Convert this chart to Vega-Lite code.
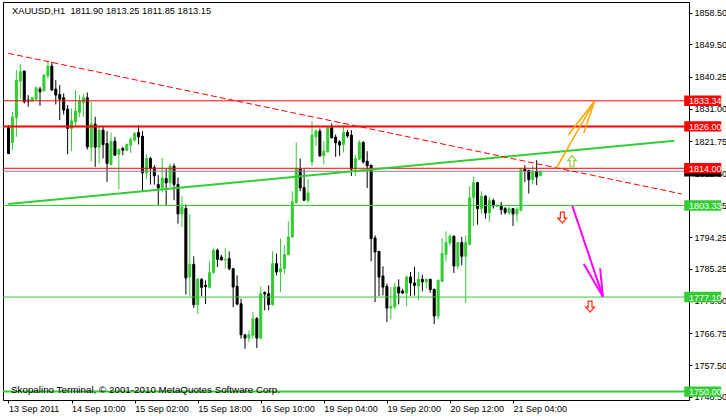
{
  "$schema": "https://vega.github.io/schema/vega-lite/v6.json",
  "width": 686,
  "height": 398,
  "autosize": {"type": "none"},
  "padding": {"left": 3, "top": 2, "right": 37, "bottom": 16},
  "background": "white",
  "config": {
    "view": {"stroke": "black", "strokeWidth": 1},
    "axis": {"labelFont": "Liberation Sans", "labelFontSize": 9, "labelColor": "black", "tickColor": "black", "domain": false, "grid": false, "labelOverlap": false, "labelBound": false, "labelFlush": false}
  },
  "datasets": {
    "candles": [
      {"i":0,"o":1825.60,"h":1826.36,"l":1818.04,"c":1818.23},
      {"i":1,"o":1821.39,"h":1830.19,"l":1819.19,"c":1828.75},
      {"i":2,"o":1828.47,"h":1842.15,"l":1823.02,"c":1839.28},
      {"i":3,"o":1838.99,"h":1843.87,"l":1834.02,"c":1841.67},
      {"i":4,"o":1841.86,"h":1841.95,"l":1832.58,"c":1833.06},
      {"i":5,"o":1833.54,"h":1834.97,"l":1831.62,"c":1833.25},
      {"i":6,"o":1833.25,"h":1834.49,"l":1833.06,"c":1834.21},
      {"i":7,"o":1833.82,"h":1837.36,"l":1833.54,"c":1837.08},
      {"i":8,"o":1836.69,"h":1837.36,"l":1831.91,"c":1835.93},
      {"i":9,"o":1836.22,"h":1840.90,"l":1835.93,"c":1840.71},
      {"i":10,"o":1840.52,"h":1844.82,"l":1839.56,"c":1843.29},
      {"i":11,"o":1843.29,"h":1844.54,"l":1836.12,"c":1836.41},
      {"i":12,"o":1836.69,"h":1839.28,"l":1832.29,"c":1834.97},
      {"i":13,"o":1835.16,"h":1837.84,"l":1827.80,"c":1833.82},
      {"i":14,"o":1834.21,"h":1835.45,"l":1829.42,"c":1830.67},
      {"i":15,"o":1830.95,"h":1832.10,"l":1818.04,"c":1825.41},
      {"i":16,"o":1825.41,"h":1831.15,"l":1818.90,"c":1827.61},
      {"i":17,"o":1827.32,"h":1836.41,"l":1825.89,"c":1830.38},
      {"i":18,"o":1830.00,"h":1834.97,"l":1828.75,"c":1833.25},
      {"i":19,"o":1832.87,"h":1835.26,"l":1828.75,"c":1834.21},
      {"i":20,"o":1834.21,"h":1835.74,"l":1819.38,"c":1820.15},
      {"i":21,"o":1820.05,"h":1833.06,"l":1815.84,"c":1826.65},
      {"i":22,"o":1826.65,"h":1828.75,"l":1814.41,"c":1820.05},
      {"i":23,"o":1820.05,"h":1825.89,"l":1815.36,"c":1824.93},
      {"i":24,"o":1824.93,"h":1825.89,"l":1816.80,"c":1820.82},
      {"i":25,"o":1821.10,"h":1824.64,"l":1810.10,"c":1815.36},
      {"i":26,"o":1815.08,"h":1824.26,"l":1814.89,"c":1821.77},
      {"i":27,"o":1821.77,"h":1823.02,"l":1817.56,"c":1817.76},
      {"i":28,"o":1818.04,"h":1819.67,"l":1807.99,"c":1819.38},
      {"i":29,"o":1819.67,"h":1820.15,"l":1817.76,"c":1819.19},
      {"i":30,"o":1819.19,"h":1821.10,"l":1818.90,"c":1820.82},
      {"i":31,"o":1820.63,"h":1823.02,"l":1818.42,"c":1822.25},
      {"i":32,"o":1822.06,"h":1824.45,"l":1821.58,"c":1823.97},
      {"i":33,"o":1824.26,"h":1826.36,"l":1820.82,"c":1823.02},
      {"i":34,"o":1823.21,"h":1824.64,"l":1807.43,"c":1812.69},
      {"i":35,"o":1812.69,"h":1818.04,"l":1810.87,"c":1816.80},
      {"i":36,"o":1816.80,"h":1817.28,"l":1809.34,"c":1813.93},
      {"i":37,"o":1814.22,"h":1814.89,"l":1809.34,"c":1811.82},
      {"i":38,"o":1809.34,"h":1812.02,"l":1803.41,"c":1808.38},
      {"i":39,"o":1808.38,"h":1816.99,"l":1807.04,"c":1811.25},
      {"i":40,"o":1811.06,"h":1813.93,"l":1803.41,"c":1809.82},
      {"i":41,"o":1809.91,"h":1815.36,"l":1808.67,"c":1814.60},
      {"i":42,"o":1814.60,"h":1815.36,"l":1804.84,"c":1809.34},
      {"i":43,"o":1809.34,"h":1811.35,"l":1798.15,"c":1800.92},
      {"i":44,"o":1800.92,"h":1805.99,"l":1797.19,"c":1802.93},
      {"i":45,"o":1802.45,"h":1803.69,"l":1777.87,"c":1782.56},
      {"i":46,"o":1782.84,"h":1800.83,"l":1777.39,"c":1786.48},
      {"i":47,"o":1786.48,"h":1788.77,"l":1773.95,"c":1774.90},
      {"i":48,"o":1774.90,"h":1782.56,"l":1772.23,"c":1782.17},
      {"i":49,"o":1782.17,"h":1782.56,"l":1777.39,"c":1779.88},
      {"i":50,"o":1780.45,"h":1781.89,"l":1775.10,"c":1780.07},
      {"i":51,"o":1779.88,"h":1787.34,"l":1779.50,"c":1784.09},
      {"i":52,"o":1784.09,"h":1790.97,"l":1783.80,"c":1790.50},
      {"i":53,"o":1790.50,"h":1790.97,"l":1785.71,"c":1787.91},
      {"i":54,"o":1788.58,"h":1789.25,"l":1787.63,"c":1787.72},
      {"i":55,"o":1787.72,"h":1791.17,"l":1785.23,"c":1787.91},
      {"i":56,"o":1788.10,"h":1790.21,"l":1784.76,"c":1785.23},
      {"i":57,"o":1785.23,"h":1785.43,"l":1774.23,"c":1779.97},
      {"i":58,"o":1780.17,"h":1783.32,"l":1774.71,"c":1775.10},
      {"i":59,"o":1775.19,"h":1776.63,"l":1765.15,"c":1766.29},
      {"i":60,"o":1766.29,"h":1766.40,"l":1762.28,"c":1765.34},
      {"i":61,"o":1765.34,"h":1767.54,"l":1764.19,"c":1766.29},
      {"i":62,"o":1766.10,"h":1772.80,"l":1765.15,"c":1770.89},
      {"i":63,"o":1770.89,"h":1771.37,"l":1762.47,"c":1765.34},
      {"i":64,"o":1765.34,"h":1780.16,"l":1764.96,"c":1778.06},
      {"i":65,"o":1778.35,"h":1778.73,"l":1773.28,"c":1777.97},
      {"i":66,"o":1778.06,"h":1780.45,"l":1773.28,"c":1774.90},
      {"i":67,"o":1774.90,"h":1790.21,"l":1774.71,"c":1786.67},
      {"i":68,"o":1786.67,"h":1789.54,"l":1783.32,"c":1784.28},
      {"i":69,"o":1784.28,"h":1793.84,"l":1778.54,"c":1785.23},
      {"i":70,"o":1785.23,"h":1791.93,"l":1783.80,"c":1789.25},
      {"i":71,"o":1789.25,"h":1798.82,"l":1789.06,"c":1794.32},
      {"i":72,"o":1794.32,"h":1807.43,"l":1794.03,"c":1804.37},
      {"i":73,"o":1804.17,"h":1821.39,"l":1803.89,"c":1813.93},
      {"i":74,"o":1813.74,"h":1816.80,"l":1807.43,"c":1808.38},
      {"i":75,"o":1808.48,"h":1813.74,"l":1804.65,"c":1804.84},
      {"i":76,"o":1804.84,"h":1810.87,"l":1804.08,"c":1806.95},
      {"i":77,"o":1815.84,"h":1827.51,"l":1814.69,"c":1823.49},
      {"i":78,"o":1823.02,"h":1825.21,"l":1820.43,"c":1824.64},
      {"i":79,"o":1824.64,"h":1825.41,"l":1817.28,"c":1817.56},
      {"i":80,"o":1817.56,"h":1821.77,"l":1815.08,"c":1818.90},
      {"i":81,"o":1818.71,"h":1825.89,"l":1818.52,"c":1825.60},
      {"i":82,"o":1825.60,"h":1826.84,"l":1822.54,"c":1822.73},
      {"i":83,"o":1822.92,"h":1823.69,"l":1817.28,"c":1821.29},
      {"i":84,"o":1821.58,"h":1822.06,"l":1817.56,"c":1820.63},
      {"i":85,"o":1820.82,"h":1825.89,"l":1818.52,"c":1824.26},
      {"i":86,"o":1824.26,"h":1824.93,"l":1822.73,"c":1823.30},
      {"i":87,"o":1823.49,"h":1824.93,"l":1811.82,"c":1813.74},
      {"i":88,"o":1813.74,"h":1817.76,"l":1811.82,"c":1816.80},
      {"i":89,"o":1816.61,"h":1822.06,"l":1816.32,"c":1821.39},
      {"i":90,"o":1821.39,"h":1821.77,"l":1815.36,"c":1815.84},
      {"i":91,"o":1816.03,"h":1818.90,"l":1808.38,"c":1814.69},
      {"i":92,"o":1814.89,"h":1814.95,"l":1787.34,"c":1793.84},
      {"i":93,"o":1794.03,"h":1794.80,"l":1775.67,"c":1790.02},
      {"i":94,"o":1790.21,"h":1790.30,"l":1777.39,"c":1782.84},
      {"i":95,"o":1783.13,"h":1785.90,"l":1777.58,"c":1779.97},
      {"i":96,"o":1780.17,"h":1780.93,"l":1769.93,"c":1773.95},
      {"i":97,"o":1773.95,"h":1779.97,"l":1770.69,"c":1774.43},
      {"i":98,"o":1774.23,"h":1781.22,"l":1773.56,"c":1779.97},
      {"i":99,"o":1779.97,"h":1782.17,"l":1775.00,"c":1778.25},
      {"i":100,"o":1778.83,"h":1779.50,"l":1778.06,"c":1778.25},
      {"i":101,"o":1778.25,"h":1783.32,"l":1774.52,"c":1782.84},
      {"i":102,"o":1782.84,"h":1784.28,"l":1777.39,"c":1781.12},
      {"i":103,"o":1781.12,"h":1785.71,"l":1777.58,"c":1780.45},
      {"i":104,"o":1780.26,"h":1784.28,"l":1776.15,"c":1782.17},
      {"i":105,"o":1782.17,"h":1783.51,"l":1778.73,"c":1781.41},
      {"i":106,"o":1781.41,"h":1782.36,"l":1779.50,"c":1782.17},
      {"i":107,"o":1782.17,"h":1782.36,"l":1778.35,"c":1779.21},
      {"i":108,"o":1779.31,"h":1779.50,"l":1769.36,"c":1771.65},
      {"i":109,"o":1771.65,"h":1782.17,"l":1770.69,"c":1781.89},
      {"i":110,"o":1781.60,"h":1794.03,"l":1781.41,"c":1789.54},
      {"i":111,"o":1789.35,"h":1795.95,"l":1787.34,"c":1792.70},
      {"i":112,"o":1792.60,"h":1795.28,"l":1791.93,"c":1794.51},
      {"i":113,"o":1794.51,"h":1794.80,"l":1783.99,"c":1786.00},
      {"i":114,"o":1786.00,"h":1792.89,"l":1785.23,"c":1792.70},
      {"i":115,"o":1792.70,"h":1794.32,"l":1786.19,"c":1788.77},
      {"i":116,"o":1788.77,"h":1794.80,"l":1775.38,"c":1792.70},
      {"i":117,"o":1792.22,"h":1808.86,"l":1791.93,"c":1805.61},
      {"i":118,"o":1805.61,"h":1811.54,"l":1797.48,"c":1809.91},
      {"i":119,"o":1809.91,"h":1810.10,"l":1797.86,"c":1802.45},
      {"i":120,"o":1802.45,"h":1807.43,"l":1801.02,"c":1805.99},
      {"i":121,"o":1805.99,"h":1806.28,"l":1799.58,"c":1801.21},
      {"i":122,"o":1801.21,"h":1805.80,"l":1798.63,"c":1804.75},
      {"i":123,"o":1804.75,"h":1805.32,"l":1802.45,"c":1803.22},
      {"i":124,"o":1803.12,"h":1803.60,"l":1802.93,"c":1803.41},
      {"i":125,"o":1803.41,"h":1804.37,"l":1800.73,"c":1802.16},
      {"i":126,"o":1802.45,"h":1802.93,"l":1800.73,"c":1801.30},
      {"i":127,"o":1801.30,"h":1802.93,"l":1800.73,"c":1802.45},
      {"i":128,"o":1802.45,"h":1802.64,"l":1797.48,"c":1800.92},
      {"i":129,"o":1800.92,"h":1802.93,"l":1798.63,"c":1802.26},
      {"i":130,"o":1801.97,"h":1813.93,"l":1801.69,"c":1813.74},
      {"i":131,"o":1813.74,"h":1814.89,"l":1810.10,"c":1813.16},
      {"i":132,"o":1813.45,"h":1813.50,"l":1806.76,"c":1810.77},
      {"i":133,"o":1810.77,"h":1814.89,"l":1809.34,"c":1813.16},
      {"i":134,"o":1813.16,"h":1816.32,"l":1809.15,"c":1811.54},
      {"i":135,"o":1811.90,"h":1813.25,"l":1811.85,"c":1813.15}
    ],
    "levels": [
      {"price": 1813.15, "kind": "bid", "weight": "minor"},
      {"price": 1833.34, "kind": "resistance", "weight": "minor"},
      {"price": 1826.00, "kind": "resistance", "weight": "major"},
      {"price": 1814.00, "kind": "resistance", "weight": "minor"},
      {"price": 1803.33, "kind": "support", "weight": "minor"},
      {"price": 1777.10, "kind": "support", "weight": "minor"},
      {"price": 1750.00, "kind": "support", "weight": "major"}
    ],
    "drawings": [
      {"obj": "support_trend", "i1": -0.05, "p1": 1803.77, "i2": 168.95, "p2": 1821.91},
      {"obj": "resistance_trend", "i1": -0.05, "p1": 1846.95, "i2": 170.8, "p2": 1806.64},
      {"obj": "up_arrow", "i1": 138.95, "p1": 1814.0, "i2": 148.7, "p2": 1833.29},
      {"obj": "up_arrow", "i1": 142.05, "p1": 1823.54, "i2": 148.7, "p2": 1833.29},
      {"obj": "up_arrow", "i1": 145.95, "p1": 1824.12, "i2": 148.7, "p2": 1833.29},
      {"obj": "down_arrow", "i1": 143.05, "p1": 1803.2, "i2": 150.8, "p2": 1777.21},
      {"obj": "down_arrow", "i1": 145.95, "p1": 1786.58, "i2": 150.8, "p2": 1777.21},
      {"obj": "down_arrow", "i1": 150.1, "p1": 1785.35, "i2": 150.8, "p2": 1777.21}
    ],
    "signals": [
      {"dir": "up", "i": 142.95, "p": 1816.01},
      {"dir": "down", "i": 140.5, "p": 1799.85},
      {"dir": "down", "i": 147.55, "p": 1774.35}
    ],
    "captions": [
      {"role": "header", "text": "XAUUSD,H1\u00a0 1811.90 1813.25 1811.85 1813.15"},
      {"role": "footer", "text": "Skopalino Terminal, \u00a9 2001-2010 MetaQuotes Software Corp."}
    ]
  },
  "layer": [
    {
      "data": {"name": "candles"},
      "mark": {"type": "rule", "strokeWidth": 1},
      "encoding": {
        "x": {"field": "i", "type": "quantitative", "title": null,
          "scale": {"domain": [-0.125, 171.375], "nice": false, "zero": false},
          "axis": {"orient": "bottom", "values": [0, 16, 32, 48, 64, 80, 96, 112, 128], "tickCount": 30,
            "labelExpr": "['13 Sep 2011','14 Sep 10:00','15 Sep 02:00','15 Sep 18:00','16 Sep 10:00','19 Sep 04:00','19 Sep 20:00','20 Sep 12:00','21 Sep 04:00'][round(datum.value/16)]",
            "labelAlign": "left", "labelDx": 1, "labelPadding": 1, "tickSize": 3, "labelBaseline": "top",
            "labelFlush": false, "labelOverlap": false, "labelBound": false, "title": null}},
        "y": {"field": "l", "type": "quantitative", "title": null,
          "scale": {"domain": [1747.6, 1861.65], "nice": false, "zero": false},
          "axis": {"orient": "right", "values": [1858.5, 1849.5, 1840.25, 1831, 1821.75, 1812.5, 1803.25, 1794.25, 1785.25, 1776, 1766.75, 1757.5, 1748.5], "tickCount": 30,
            "format": ".2f", "tickSize": 3, "labelPadding": 2, "labelBaseline": "middle", "labelOverlap": false, "labelBound": false, "labelFlush": false, "title": null}},
        "y2": {"field": "h"},
        "stroke": {"condition": {"test": "datum.c >= datum.o", "value": "#32cd32"}, "value": "#000000"}
      }
    },
    {
      "data": {"name": "candles"},
      "mark": {"type": "bar", "width": 2, "strokeWidth": 1},
      "encoding": {
        "x": {"field": "i", "type": "quantitative", "title": null},
        "y": {"field": "o", "type": "quantitative", "title": null},
        "y2": {"field": "c"},
        "fill": {"condition": {"test": "datum.c >= datum.o", "value": "#32cd32"}, "value": "#000000"},
        "stroke": {"condition": {"test": "datum.c >= datum.o", "value": "#32cd32"}, "value": "#000000"}
      }
    },
    {
      "data": {"name": "levels"},
      "mark": {"type": "rule"},
      "encoding": {
        "y": {"field": "price", "type": "quantitative", "title": null},
        "stroke": {"field": "kind", "type": "nominal", "legend": null,
          "scale": {"domain": ["bid", "resistance", "support"], "range": ["#7a8a99", "#ff0000", "#32cd32"]}},
        "strokeWidth": {"field": "weight", "type": "nominal", "legend": null,
          "scale": {"domain": ["minor", "major"], "range": [1, 2]}}
      }
    },
    {
      "data": {"name": "drawings"},
      "transform": [{"filter": "datum.obj == 'support_trend'"}],
      "mark": {"type": "rule", "color": "#32cd32", "strokeWidth": 2},
      "encoding": {
        "x": {"field": "i1", "type": "quantitative", "title": null},
        "y": {"field": "p1", "type": "quantitative", "title": null},
        "x2": {"field": "i2"},
        "y2": {"field": "p2"}
      }
    },
    {
      "data": {"name": "drawings"},
      "transform": [{"filter": "datum.obj == 'resistance_trend'"}],
      "mark": {"type": "rule", "color": "#ff0000", "strokeWidth": 1, "strokeDash": [6, 3]},
      "encoding": {
        "x": {"field": "i1", "type": "quantitative", "title": null},
        "y": {"field": "p1", "type": "quantitative", "title": null},
        "x2": {"field": "i2"},
        "y2": {"field": "p2"}
      }
    },
    {
      "data": {"name": "drawings"},
      "transform": [{"filter": "datum.obj == 'up_arrow'"}],
      "mark": {"type": "rule", "color": "#ffa500", "strokeWidth": 1.5},
      "encoding": {
        "x": {"field": "i1", "type": "quantitative", "title": null},
        "y": {"field": "p1", "type": "quantitative", "title": null},
        "x2": {"field": "i2"},
        "y2": {"field": "p2"}
      }
    },
    {
      "data": {"name": "drawings"},
      "transform": [{"filter": "datum.obj == 'down_arrow'"}],
      "mark": {"type": "rule", "color": "#ff00ff", "strokeWidth": 2},
      "encoding": {
        "x": {"field": "i1", "type": "quantitative", "title": null},
        "y": {"field": "p1", "type": "quantitative", "title": null},
        "x2": {"field": "i2"},
        "y2": {"field": "p2"}
      }
    },
    {
      "data": {"name": "signals"},
      "transform": [{"filter": "datum.dir == 'up'"}],
      "mark": {"type": "point", "shape": "M0,-1 L0.8,-0.1 L0.35,-0.1 L0.35,1 L-0.35,1 L-0.35,-0.1 L-0.8,-0.1 Z", "size": 121, "filled": true, "fill": "white", "stroke": "#8fd13a", "strokeWidth": 1.2, "opacity": 1},
      "encoding": {
        "x": {"field": "i", "type": "quantitative", "title": null},
        "y": {"field": "p", "type": "quantitative", "title": null}
      }
    },
    {
      "data": {"name": "signals"},
      "transform": [{"filter": "datum.dir == 'down'"}],
      "mark": {"type": "point", "shape": "M0,1 L0.8,0.1 L0.35,0.1 L0.35,-1 L-0.35,-1 L-0.35,0.1 L-0.8,0.1 Z", "size": 121, "filled": true, "fill": "white", "stroke": "#ff2a00", "strokeWidth": 1.2, "opacity": 1},
      "encoding": {
        "x": {"field": "i", "type": "quantitative", "title": null},
        "y": {"field": "p", "type": "quantitative", "title": null}
      }
    },
    {
      "data": {"name": "levels"},
      "mark": {"type": "point", "shape": "M-1,-0.28 L1,-0.28 L1,0.28 L-1,0.28 Z", "size": 1369, "filled": true, "opacity": 1, "strokeWidth": 0},
      "encoding": {
        "x": {"datum": 176.125, "type": "quantitative"},
        "y": {"field": "price", "type": "quantitative", "title": null},
        "fill": {"field": "kind", "type": "nominal", "legend": null,
          "scale": {"domain": ["bid", "resistance", "support"], "range": ["#000000", "#ff0000", "#32cd32"]}}
      }
    },
    {
      "data": {"name": "levels"},
      "transform": [{"filter": "datum.kind != 'bid'"}],
      "mark": {"type": "text", "align": "left", "baseline": "middle", "dy": 0.5, "color": "white", "font": "Liberation Sans", "fontSize": 9},
      "encoding": {
        "x": {"datum": 172.625, "type": "quantitative"},
        "y": {"field": "price", "type": "quantitative", "title": null},
        "text": {"field": "price", "type": "quantitative", "format": ".2f"}
      }
    },
    {
      "data": {"name": "captions"},
      "transform": [{"filter": "datum.role == 'header'"}],
      "mark": {"type": "text", "align": "left", "baseline": "alphabetic", "dx": 4, "dy": 12, "color": "black", "font": "Liberation Sans", "fontSize": 9.3},
      "encoding": {
        "x": {"datum": -0.125, "type": "quantitative"},
        "y": {"datum": 1861.65, "type": "quantitative"},
        "text": {"field": "text", "type": "nominal"}
      }
    },
    {
      "data": {"name": "captions"},
      "transform": [{"filter": "datum.role == 'footer'"}],
      "mark": {"type": "text", "align": "left", "baseline": "alphabetic", "dx": 3, "dy": -7, "color": "black", "font": "Liberation Sans", "fontSize": 9.8},
      "encoding": {
        "x": {"datum": -0.125, "type": "quantitative"},
        "y": {"datum": 1747.6, "type": "quantitative"},
        "text": {"field": "text", "type": "nominal"}
      }
    }
  ]
}
